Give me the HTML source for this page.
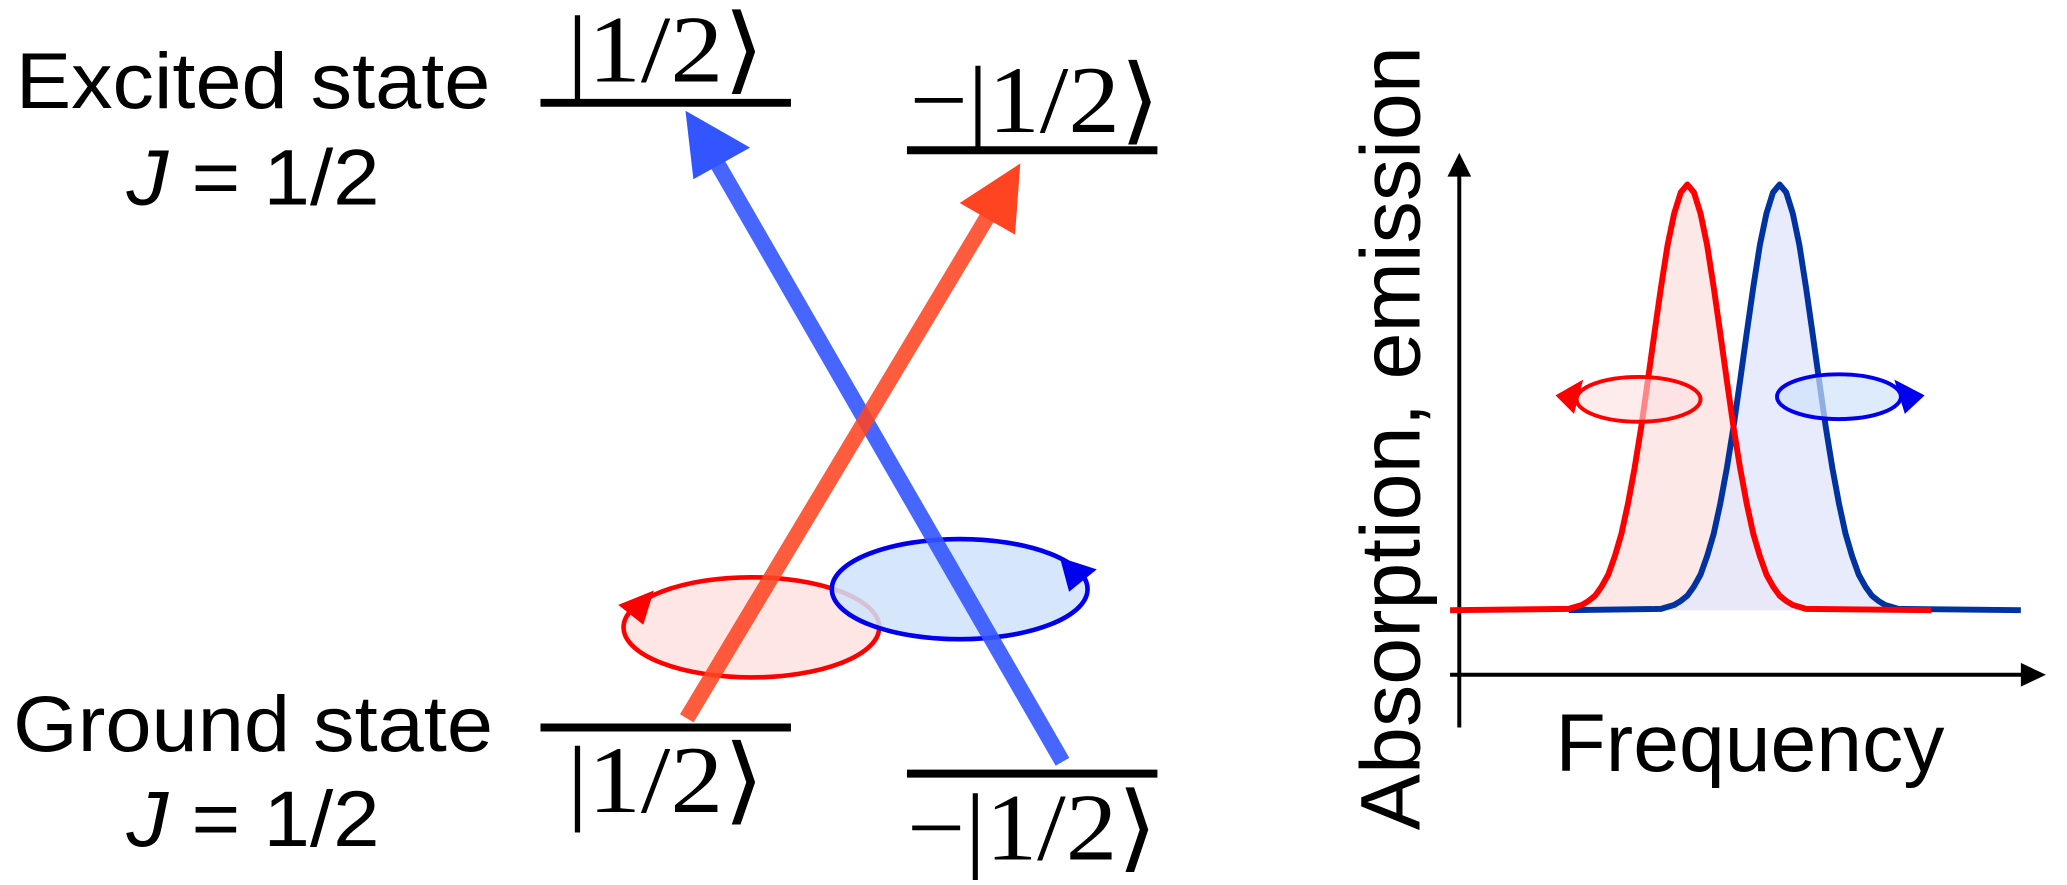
<!DOCTYPE html>
<html><head><style>
html,body{margin:0;padding:0;background:#fff;}
svg{display:block;}
</style></head><body>
<svg width="2067" height="885" viewBox="0 0 1568 671.5" preserveAspectRatio="none" xmlns="http://www.w3.org/2000/svg">
<g font-family="Liberation Sans, sans-serif" fill="#000">
<text x="12" y="82" font-size="60" textLength="360" lengthAdjust="spacingAndGlyphs">Excited state</text>
<text x="96" y="155" font-size="60" textLength="192" lengthAdjust="spacingAndGlyphs"><tspan font-style="italic">J</tspan> = 1/2</text>
<text x="10" y="570" font-size="60" textLength="364" lengthAdjust="spacingAndGlyphs">Ground state</text>
<text x="96" y="642" font-size="60" textLength="192" lengthAdjust="spacingAndGlyphs"><tspan font-style="italic">J</tspan> = 1/2</text>
</g>
<g stroke="#000" stroke-width="6">
<line x1="410" y1="78" x2="600" y2="78"/>
<line x1="688" y1="114" x2="878" y2="114"/>
<line x1="410" y1="552" x2="600" y2="552"/>
<line x1="688" y1="587" x2="878" y2="587"/>
</g>
<g font-family="Liberation Serif, serif" font-size="72" fill="#000">
<text x="430" y="62" textLength="150" lengthAdjust="spacingAndGlyphs">|1/2⟩</text>
<text x="690" y="100" textLength="190" lengthAdjust="spacingAndGlyphs">−|1/2⟩</text>
<text x="430" y="616" textLength="150" lengthAdjust="spacingAndGlyphs">|1/2⟩</text>
<text x="688" y="652" textLength="190" lengthAdjust="spacingAndGlyphs">−|1/2⟩</text>
</g>
<!-- ellipses -->
<ellipse cx="570" cy="476" rx="97" ry="38" fill="#fde6e4" stroke="#ff0000" stroke-width="3.5"/>
<polygon points="469,459 496,448 488,474" fill="#ff0000"/>
<ellipse cx="728" cy="447" rx="97" ry="38" fill="#cfe3fb" fill-opacity="0.85" stroke="#0000ee" stroke-width="3.5"/>
<polygon points="832,432 804,423 811,449" fill="#0000ee"/>
<!-- arrows -->
<line x1="806" y1="578" x2="543" y2="122" stroke="#3355ff" stroke-opacity="0.9" stroke-width="12"/>
<polygon points="520,84 569,112 526,136" fill="#3355ff"/>
<line x1="521" y1="545" x2="750" y2="163" stroke="#ff4422" stroke-opacity="0.88" stroke-width="12"/>
<polygon points="774,124 770,178 728,154" fill="#ff4422"/>
<!-- graph -->
<polygon points="1100,463 1190,462 1200,459 1205,456 1210,452 1215,445 1220,436 1225,422 1230,405 1235,382 1240,355 1245,324 1250,289 1255,253 1260,218 1265,186 1270,162 1275,146 1280,140 1285,146 1290,162 1295,186 1300,218 1305,253 1310,289 1315,324 1320,355 1325,382 1330,405 1335,422 1340,436 1345,445 1350,452 1355,456 1360,459 1370,462 1465,463" fill="#fde8e8"/>
<polygon points="1190,463 1260,462 1270,459 1275,456 1280,452 1285,445 1290,436 1295,422 1300,405 1305,382 1310,355 1315,324 1320,289 1325,253 1330,218 1335,186 1340,162 1345,146 1350,140 1355,146 1360,162 1365,186 1370,218 1375,253 1380,289 1385,324 1390,355 1395,382 1400,405 1405,422 1410,436 1415,445 1420,452 1425,456 1430,459 1440,462 1533,463" fill="#e4e8fb" fill-opacity="0.85"/>
<g stroke="#000" stroke-width="3" fill="none">
<line x1="1107" y1="130" x2="1107" y2="552"/>
<line x1="1100" y1="512" x2="1538" y2="512"/>
</g>
<polygon points="1107,116 1098,134 1116,134" fill="#000"/>
<polygon points="1552,512 1533,503 1533,521" fill="#000"/>
<polyline points="1190,463 1260,462 1270,459 1275,456 1280,452 1285,445 1290,436 1295,422 1300,405 1305,382 1310,355 1315,324 1320,289 1325,253 1330,218 1335,186 1340,162 1345,146 1350,140 1355,146 1360,162 1365,186 1370,218 1375,253 1380,289 1385,324 1390,355 1395,382 1400,405 1405,422 1410,436 1415,445 1420,452 1425,456 1430,459 1440,462 1533,463" fill="none" stroke="#0033a0" stroke-width="4.5" stroke-linejoin="round"/>
<polyline points="1100,463 1190,462 1200,459 1205,456 1210,452 1215,445 1220,436 1225,422 1230,405 1235,382 1240,355 1245,324 1250,289 1255,253 1260,218 1265,186 1270,162 1275,146 1280,140 1285,146 1290,162 1295,186 1300,218 1305,253 1310,289 1315,324 1320,355 1325,382 1330,405 1335,422 1340,436 1345,445 1350,452 1355,456 1360,459 1370,462 1465,463" fill="none" stroke="#ff0000" stroke-width="4.5" stroke-linejoin="round"/>
<ellipse cx="1243" cy="303" rx="47" ry="17" fill="#fde0e0" fill-opacity="0.6" stroke="#ff0000" stroke-width="3"/>
<polygon points="1180,300 1201,288 1194,314" fill="#ff0000"/>
<ellipse cx="1395" cy="301" rx="47" ry="17" fill="#cfe3fb" fill-opacity="0.7" stroke="#0000ee" stroke-width="3"/>
<polygon points="1460,300 1437,288 1445,314" fill="#0000ee"/>
<text x="1180" y="585" font-family="Liberation Sans, sans-serif" font-size="62" textLength="295" lengthAdjust="spacingAndGlyphs">Frequency</text>
<text transform="translate(1077,630) rotate(-90)" font-family="Liberation Sans, sans-serif" font-size="64" textLength="595" lengthAdjust="spacingAndGlyphs">Absorption, emission</text>
</svg>
</body></html>
